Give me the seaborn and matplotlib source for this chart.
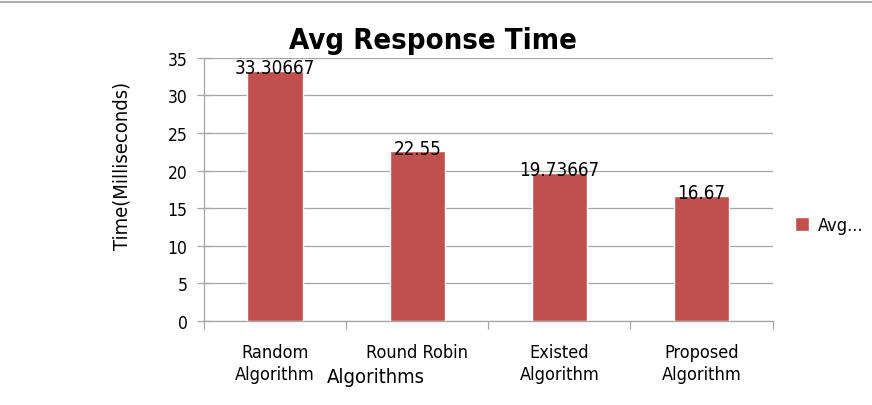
import numpy as np
import pandas as pd
import matplotlib as mpl
mpl.use("Agg")
import matplotlib.pyplot as plt
import seaborn as sns
from matplotlib.lines import Line2D
from matplotlib.patches import Patch

# data
algorithms = ["Random\nAlgorithm", "Round Robin", "Existed\nAlgorithm", "Proposed\nAlgorithm"]
avg_time = [33.30667, 22.55, 19.73667, 16.67]
value_labels = ["33.30667", "22.55", "19.73667", "16.67"]

BAR = "#C0504D"
GRID = "#A6A6A6"


def main():
    sns.set_style("white")
    plt.rcParams["font.family"] = ["DejaVu Sans"]
    plt.rcParams["font.stretch"] = "condensed"
    plt.rcParams["text.color"] = "black"
    plt.rcParams["xtick.color"] = "black"
    plt.rcParams["ytick.color"] = "black"
    plt.rcParams["axes.labelcolor"] = "black"

    df = pd.DataFrame({"Algorithm": algorithms, "Avg": avg_time})

    fig = plt.figure(figsize=(8.72, 4.06), dpi=100)
    ax = fig.add_axes([0.234, 0.207, 0.652, 0.648])
    sns.barplot(data=df, x="Algorithm", y="Avg", color=BAR, width=0.39,
                saturation=1, ax=ax, zorder=3)

    ax.set_ylim(0, 35)
    ax.set_yticks(np.arange(0, 36, 5))
    ax.set_xlim(-0.5, 3.5)
    ax.yaxis.grid(True, color=GRID, linewidth=0.9, zorder=0)
    ax.set_axisbelow(True)

    for s in ["top", "right"]:
        ax.spines[s].set_visible(False)
    for s in ["left", "bottom"]:
        ax.spines[s].set_color(GRID)
        ax.spines[s].set_linewidth(0.9)

    # tick marks on category boundaries
    ax.set_xticks(np.arange(-0.5, 4.0, 1.0), minor=True)
    ax.tick_params(axis="x", which="major", bottom=False, length=0, pad=16, labelsize=13)
    ax.tick_params(axis="x", which="minor", bottom=True, length=6, color=GRID,
                   width=0.9, direction="out")
    ax.tick_params(axis="y", left=True, length=10, color=GRID, width=0.9,
                   direction="inout", labelsize=12.5, pad=7)
    for lbl in ax.get_xticklabels():
        lbl.set_linespacing(1.3)

    for i, (v, t) in enumerate(zip(avg_time, value_labels)):
        ax.text(i, v + 0.4, t, ha="center", va="center", fontsize=13.5, zorder=4)

    ax.set_xlabel("Algorithms", fontsize=14.5)
    ax.xaxis.set_label_coords(0.302, -0.175)
    ax.set_ylabel("Time(Milliseconds)", fontsize=14.5)
    ax.yaxis.set_label_coords(-0.128, 0.592)

    fig.text(0.496, 0.90, "Avg Response Time", ha="center", va="center",
             fontsize=21, fontweight="bold")

    ax.legend(handles=[Patch(facecolor=BAR, label="Avg...")], loc="center left",
              bbox_to_anchor=(1.01, 0.365), frameon=False, fontsize=13,
              handlelength=0.8, handleheight=0.8, handletextpad=0.5)

    fig.add_artist(Line2D([0, 1], [0.992, 0.992], color="#B0B0B0", linewidth=1.5,
                          transform=fig.transFigure))

    plt.savefig("out.png", dpi=100)


if __name__ == "__main__":
    main()
